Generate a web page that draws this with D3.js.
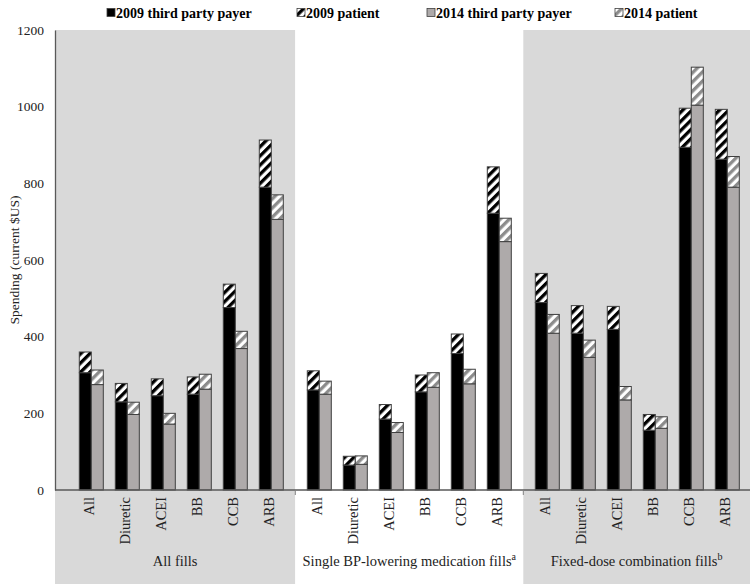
<!DOCTYPE html>
<html>
<head>
<meta charset="utf-8">
<script src="https://cdn.jsdelivr.net/npm/d3@7"></script>
<style>
  body { margin: 0; background: #fff; }
  svg { display: block; font-family: "Liberation Serif", "Times New Roman", serif; }
</style>
</head>
<body>
<svg id="chart" width="750" height="584"></svg>
<script>
// ---- Data ----
const panels = ["All fills", "Single BP-lowering medication fills", "Fixed-dose combination fills"];
const panelSup = ["", "a", "b"];
const categories = ["All", "Diuretic", "ACEI", "BB", "CCB", "ARB"];
const seriesNames = ["2009 third party payer", "2009 patient", "2014 third party payer", "2014 patient"];
// values ordered panel by panel, category by category
const thirdParty2009 = [306, 230, 246, 250, 476, 790,   261, 65, 185, 256, 356, 722,   489, 409, 419, 156, 894, 863];
const patient2009    = [ 54,  48,  44,  45,  61, 123,    50, 23,  38,  44,  51, 121,    76,  72,  60,  41, 102, 130];
const thirdParty2014 = [275, 197, 172, 263, 369, 706,   250, 67, 150, 268, 277, 648,   409, 346, 235, 161, 1004, 790];
const patient2014    = [ 38,  32,  28,  39,  45,  64,    34, 22,  26,  38,  38,  61,    49,  45,  35,  30,  99,  80];
const yTicks = [0, 200, 400, 600, 800, 1000, 1200];

// ---- Build rows ----
const rows = [];
panels.forEach((p, pi) => {
  categories.forEach((c, ci) => {
    const i = pi * categories.length + ci;
    rows.push({panel: p, cat: c, tp09: thirdParty2009[i], pt09: patient2009[i], tp14: thirdParty2014[i], pt14: patient2014[i]});
  });
});

const svg = d3.select("#chart");
const W = 750, H = 584;
const axisX = 55, y0px = 490, y1px = 30;

const y = d3.scaleLinear().domain([0, 1200]).range([y0px, y1px]);
const xPanel = d3.scaleBand().domain(panels).range([67.3, 751.3]).paddingInner(0).paddingOuter(0);
const xCat = d3.scaleBand().domain(categories).range([0, xPanel.bandwidth()]).paddingInner(0).paddingOuter(1/6);
const barW = 12;
const groupCenter = d => xPanel(d.panel) + xCat(d.cat) + xCat.bandwidth() / 2;

// ---- Patterns ----
const defs = svg.append("defs");
function stripe(id, color) {
  const p = defs.append("pattern").attr("id", id).attr("patternUnits", "userSpaceOnUse")
    .attr("width", 6.5).attr("height", 6.5).attr("patternTransform", "rotate(45)");
  p.append("rect").attr("width", 6.5).attr("height", 6.5).attr("fill", "#fff");
  p.append("rect").attr("x", 0).attr("width", 3.3).attr("height", 6.5).attr("fill", color);
}
stripe("hatchBlack", "#000");
stripe("hatchGrey", "#8c8c8c");

// ---- Panel backgrounds ----
const panelEdges = panels.map((p, i) => {
  const left = i === 0 ? axisX : xPanel(p);
  const right = i === panels.length - 1 ? W : xPanel(panels[i + 1]);
  return {left, right, fill: i === 1 ? "#ffffff" : "#d9d9d9"};
});
svg.append("g").selectAll("rect").data(panelEdges).join("rect")
  .attr("x", d => d.left).attr("y", y1px)
  .attr("width", d => d.right - d.left).attr("height", H - y1px)
  .attr("fill", d => d.fill);

// ---- Bars ----
const stroke = "#404040";
const g = svg.append("g");
const specs = [
  {off: -barW, lo: d => 0, hi: d => d.tp09, fill: "#000000"},
  {off: -barW, lo: d => d.tp09, hi: d => d.tp09 + d.pt09, fill: "url(#hatchBlack)"},
  {off: 0, lo: d => 0, hi: d => d.tp14, fill: "#aeaaaa"},
  {off: 0, lo: d => d.tp14, hi: d => d.tp14 + d.pt14, fill: "url(#hatchGrey)"}
];
specs.forEach(s => {
  g.append("g").selectAll("rect").data(rows).join("rect")
    .attr("x", d => groupCenter(d) + s.off)
    .attr("y", d => y(s.hi(d)))
    .attr("width", barW)
    .attr("height", d => y(s.lo(d)) - y(s.hi(d)))
    .attr("fill", s.fill)
    .attr("stroke", stroke).attr("stroke-width", 1);
});

// ---- Axes ----
const yAxis = d3.axisLeft(y).tickValues(yTicks).tickSize(0).tickPadding(11).tickFormat(d3.format("d"));
const ya = svg.append("g").attr("transform", `translate(${axisX},0)`).call(yAxis);
ya.select(".domain").attr("stroke", "#595959").attr("stroke-width", 1.3);
ya.selectAll("text").attr("font-size", 13.5).attr("fill", "#222").style("font-family", "Liberation Serif");

// x axis line
svg.append("line").attr("x1", axisX).attr("x2", W).attr("y1", y0px).attr("y2", y0px)
  .attr("stroke", "#595959").attr("stroke-width", 1.3);
// panel divider ticks
svg.append("g").selectAll("line").data(panels.slice(1)).join("line")
  .attr("x1", d => xPanel(d)).attr("x2", d => xPanel(d))
  .attr("y1", y0px).attr("y2", y0px + 5)
  .attr("stroke", "#808080").attr("stroke-width", 1);

// category labels
svg.append("g").selectAll("text").data(rows).join("text")
  .attr("transform", d => `translate(${groupCenter(d) + 3},${y0px + 7}) rotate(-90)`)
  .attr("text-anchor", "end")
  .attr("font-size", 14.5).attr("fill", "#222")
  .text(d => d.cat);

// panel labels
const pl = svg.append("g").selectAll("text").data(panels).join("text")
  .attr("x", (d, i) => (panelEdges[i].left + panelEdges[i].right) / 2)
  .attr("y", 566)
  .attr("text-anchor", "middle")
  .attr("font-size", 14.5).attr("fill", "#222");
pl.append("tspan").text(d => d);
pl.append("tspan").attr("dy", -6).attr("font-size", 10).text((d, i) => panelSup[i]);

// y title
svg.append("text")
  .attr("transform", `translate(14,${(y0px + y1px) / 2}) rotate(-90)`)
  .attr("text-anchor", "middle").attr("dy", "0.35em")
  .attr("font-size", 13.5).attr("fill", "#222")
  .text("Spending (current $US)");

// ---- Legend ----
const legendX = [107, 297, 427, 615];
const legendFills = ["#000000", "url(#hatchBlack)", "#aeaaaa", "url(#hatchGrey)"];
const lg = svg.append("g").selectAll("g").data(seriesNames).join("g")
  .attr("transform", (d, i) => `translate(${legendX[i]},13)`);
lg.append("rect").attr("x", 0).attr("y", -4.5).attr("width", 8).attr("height", 8)
  .attr("fill", (d, i) => legendFills[i]).attr("stroke", stroke).attr("stroke-width", 0.8);
lg.append("text").attr("x", 9).attr("y", 0).attr("dy", "0.35em")
  .attr("font-size", 14).attr("font-weight", "bold").attr("fill", "#000")
  .text(d => d);
</script>
</body>
</html>
